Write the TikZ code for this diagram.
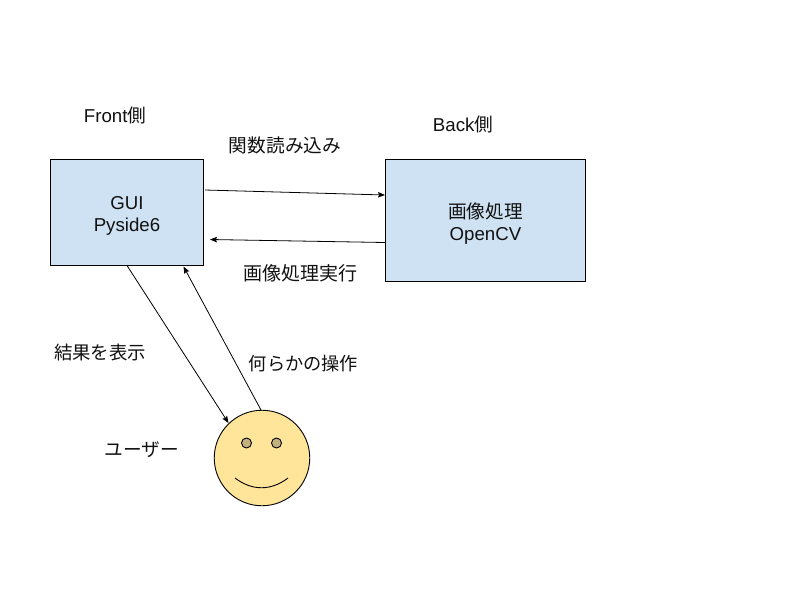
\documentclass[tikz,border=0pt]{standalone}
\usepackage{fontspec}
\setmainfont{Liberation Sans}
\newfontfamily\cjk{Noto Sans CJK JP}
\usetikzlibrary{arrows.meta}
\definecolor{boxblue}{HTML}{CFE2F3}
\definecolor{facey}{HTML}{FFE599}
\definecolor{eyec}{HTML}{C4B27E}
\definecolor{ink}{HTML}{111111}
\tikzset{
  x=1pt,y=-1pt,
  boxn/.style={draw=black,line width=0.9pt,fill=boxblue,inner sep=0pt,align=center,font=\fontsize{18.67}{22}\selectfont,text=ink},
  lab/.style={inner sep=0pt,font=\fontsize{18.67}{22}\selectfont,text=ink},
  cjklab/.style={lab,font=\fontsize{#1}{22}\selectfont\cjk},
  cjklab/.default={18.67},
  conn/.style={draw=black,line width=0.8pt,-{Stealth[length=7pt,width=5.5pt,inset=1.2pt]}},
  facen/.style={circle,draw=black,line width=0.9pt,fill=facey,inner sep=0pt,minimum size=95.5pt},
  eyen/.style={circle,draw=black,line width=0.9pt,fill=eyec,inner sep=0pt,minimum size=10pt}
}
\begin{document}
\begin{tikzpicture}
\useasboundingbox (0,0) rectangle (800,600);
\fill[white] (0,0) rectangle (800,600);
\node[boxn,minimum width=153pt,minimum height=106pt] (gui) at (127,212) {\rule{0pt}{20pt}GUI\\Pyside6};
\node[boxn,minimum width=200pt,minimum height=122pt] (cv) at (485.5,220.5) {\rule{0pt}{21pt}{\cjk 画像処理}\\OpenCV};
\node[facen] (face) at (262,458) {};
\node[eyen] (eyeL) at (246.5,443) {};
\node[eyen] (eyeR) at (276.5,443) {};
\coordinate (smileL) at (235,478);
\coordinate (smileR) at (288,478);
\draw[line width=0.9pt,black] (smileL) .. controls (252,491) and (271,491) .. (smileR);
\node[lab] (front) at (115,115) {Front{\cjk 側}};
\node[lab] (back) at (463,124.5) {Back{\cjk 側}};
\node[cjklab] (l1) at (285,145) {関数読み込み};
\node[cjklab=19] (l2) at (300.5,273) {画像処理実行};
\node[cjklab=18.4] (l3) at (100,353) {結果を表示};
\node[cjklab=18.2] (l4) at (303.5,363.5) {何らかの操作};
\node[cjklab] (l5) at (142,450) {ユーザー};
\coordinate (a1s) at (205,190);
\coordinate (a1e) at (385,195);
\coordinate (a2s) at (385,242.5);
\coordinate (a2e) at (210,239.5);
\coordinate (a3s) at (127,265.5);
\coordinate (a3e) at (228.5,423);
\coordinate (a4s) at (261,410);
\coordinate (a4e) at (183.5,266.5);
\draw[conn] (a1s) -- (a1e);
\draw[conn] (a2s) -- (a2e);
\draw[conn] (a3s) -- (a3e);
\draw[conn] (a4s) -- (a4e);
\end{tikzpicture}
\end{document}
